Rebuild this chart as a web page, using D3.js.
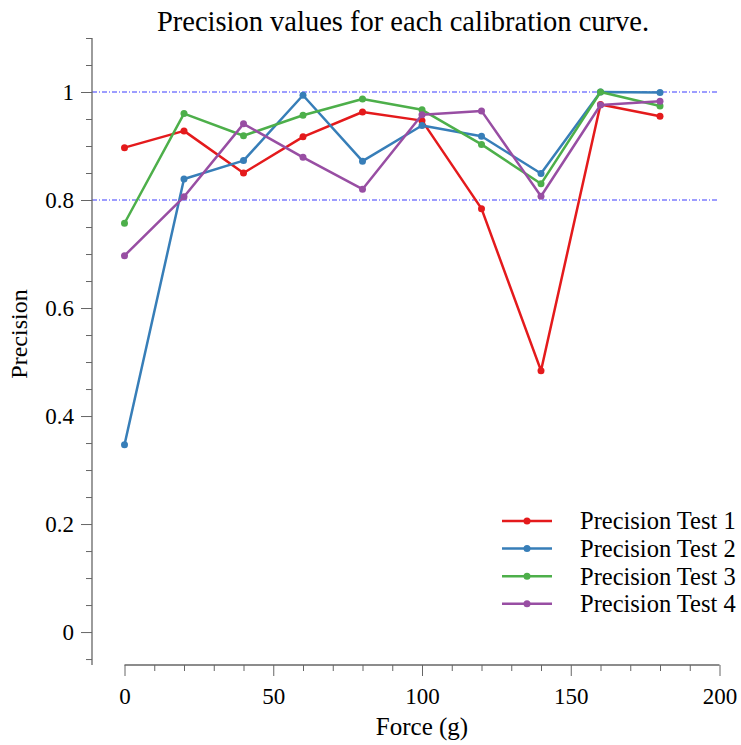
<!DOCTYPE html>
<html>
<head>
<meta charset="utf-8">
<script src="https://cdn.jsdelivr.net/npm/d3@7"></script>
<style>
  html, body { margin: 0; padding: 0; background: #fff; }
  svg { display: block; font-family: "Liberation Serif", "Times New Roman", serif; }
</style>
</head>
<body>
<svg id="chart" width="741" height="745"></svg>
<script>
const forces = [0, 20, 40, 60, 80, 100, 120, 140, 160, 180];
const test1 = [0.897, 0.928, 0.850, 0.917, 0.963, 0.947, 0.784, 0.484, 0.977, 0.955];
const test2 = [0.347, 0.839, 0.873, 0.994, 0.872, 0.938, 0.918, 0.849, 1.000, 0.999];
const test3 = [0.757, 0.960, 0.919, 0.957, 0.987, 0.967, 0.903, 0.830, 1.000, 0.974];
const test4 = [0.697, 0.806, 0.941, 0.879, 0.820, 0.958, 0.965, 0.807, 0.976, 0.983];
const seriesNames = ["Precision Test 1", "Precision Test 2", "Precision Test 3", "Precision Test 4"];
const seriesColors = ["#e41a1c", "#377eb8", "#4daf4a", "#984ea3"];
const refLines = [1.0, 0.8];
const yMajorTicks = [0, 0.2, 0.4, 0.6, 0.8, 1];
const xMajorTicks = [0, 50, 100, 150, 200];

const seriesValues = [test1, test2, test3, test4];
const svg = d3.select("#chart");

const x = d3.scaleLinear().domain([0, 200]).range([124.5, 719.5]);
const y = d3.scaleLinear().domain([-0.061, 1.1]).range([665, 38]);

const axisColor = "#666";
const yAxisX = 92;
const xAxisY = 665;
const serif = "Liberation Serif, Times New Roman, serif";

// title
svg.append("text").attr("x", 403).attr("y", 31).attr("text-anchor", "middle")
  .attr("font-size", 28.5).attr("fill", "#000").text("Precision values for each calibration curve.");

// reference lines
svg.append("g").selectAll("line").data(refLines).join("line")
  .attr("x1", yAxisX).attr("x2", 718)
  .attr("y1", d => y(d)).attr("y2", d => y(d))
  .attr("stroke", "#3a3aff").attr("stroke-width", 1)
  .attr("stroke-dasharray", "5,2,1,2");

// y axis
const yMinor = d3.range(-1, 23).map(i => +(i * 0.05).toFixed(2)).filter(v => !yMajorTicks.some(m => Math.abs(m - v) < 1e-9));
const yAxisMajor = d3.axisLeft(y).tickValues(yMajorTicks).tickSize(11).tickPadding(7).tickFormat(d3.format("~g"));
const yAxisMinor = d3.axisLeft(y).tickValues(yMinor).tickSize(6).tickFormat("");
const gy = svg.append("g").attr("transform", `translate(${yAxisX},0)`).call(yAxisMajor);
const gy2 = svg.append("g").attr("transform", `translate(${yAxisX},0)`).call(yAxisMinor);
[gy, gy2].forEach(g => {
  g.select(".domain").remove();
  g.selectAll(".tick line").attr("stroke", axisColor).attr("stroke-width", 1);
});
gy.selectAll(".tick text").attr("font-size", 23).attr("fill", "#000").attr("font-family", serif);
svg.append("line").attr("x1", yAxisX).attr("x2", yAxisX).attr("y1", 38).attr("y2", xAxisY)
  .attr("stroke", axisColor).attr("stroke-width", 1.3);

// x axis
const xMinor = d3.range(0, 201, 10).filter(v => v % 50 !== 0);
const xAxisMajor = d3.axisBottom(x).tickValues(xMajorTicks).tickSize(11).tickPadding(12);
const xAxisMinor = d3.axisBottom(x).tickValues(xMinor).tickSize(6).tickFormat("");
const gx = svg.append("g").attr("transform", `translate(0,${xAxisY})`).call(xAxisMajor);
const gx2 = svg.append("g").attr("transform", `translate(0,${xAxisY})`).call(xAxisMinor);
[gx, gx2].forEach(g => {
  g.select(".domain").remove();
  g.selectAll(".tick line").attr("stroke", axisColor).attr("stroke-width", 1);
});
gx.selectAll(".tick text").attr("font-size", 23).attr("fill", "#000").attr("font-family", serif);
svg.append("line").attr("x1", x(0)).attr("x2", x(200)).attr("y1", xAxisY).attr("y2", xAxisY)
  .attr("stroke", axisColor).attr("stroke-width", 1.3);

// axis labels
svg.append("text").attr("x", x(100)).attr("y", 735).attr("text-anchor", "middle")
  .attr("font-size", 25).attr("fill", "#000").text("Force (g)");
svg.append("text").attr("transform", `translate(27,334) rotate(-90)`).attr("text-anchor", "middle")
  .attr("font-size", 24).attr("fill", "#000").text("Precision");

// series
const line = d3.line().x((d, i) => x(forces[i])).y(d => y(d));
const gs = svg.append("g");
seriesValues.forEach((vals, si) => {
  gs.append("path").datum(vals).attr("d", line).attr("fill", "none")
    .attr("stroke", seriesColors[si]).attr("stroke-width", 2.5).attr("stroke-linejoin", "round");
  gs.append("g").selectAll("circle").data(vals).join("circle")
    .attr("cx", (d, i) => x(forces[i])).attr("cy", d => y(d)).attr("r", 3.5)
    .attr("fill", seriesColors[si]);
});

// legend
const lg = svg.append("g");
seriesNames.forEach((name, i) => {
  const yy = 521 + i * 27.6;
  lg.append("line").attr("x1", 502).attr("x2", 552).attr("y1", yy).attr("y2", yy)
    .attr("stroke", seriesColors[i]).attr("stroke-width", 2.5);
  lg.append("circle").attr("cx", 527).attr("cy", yy).attr("r", 3.5).attr("fill", seriesColors[i]);
  lg.append("text").attr("x", 580).attr("y", yy + 8.3).attr("font-size", 24.5).attr("fill", "#000").text(name);
});
</script>
</body>
</html>
